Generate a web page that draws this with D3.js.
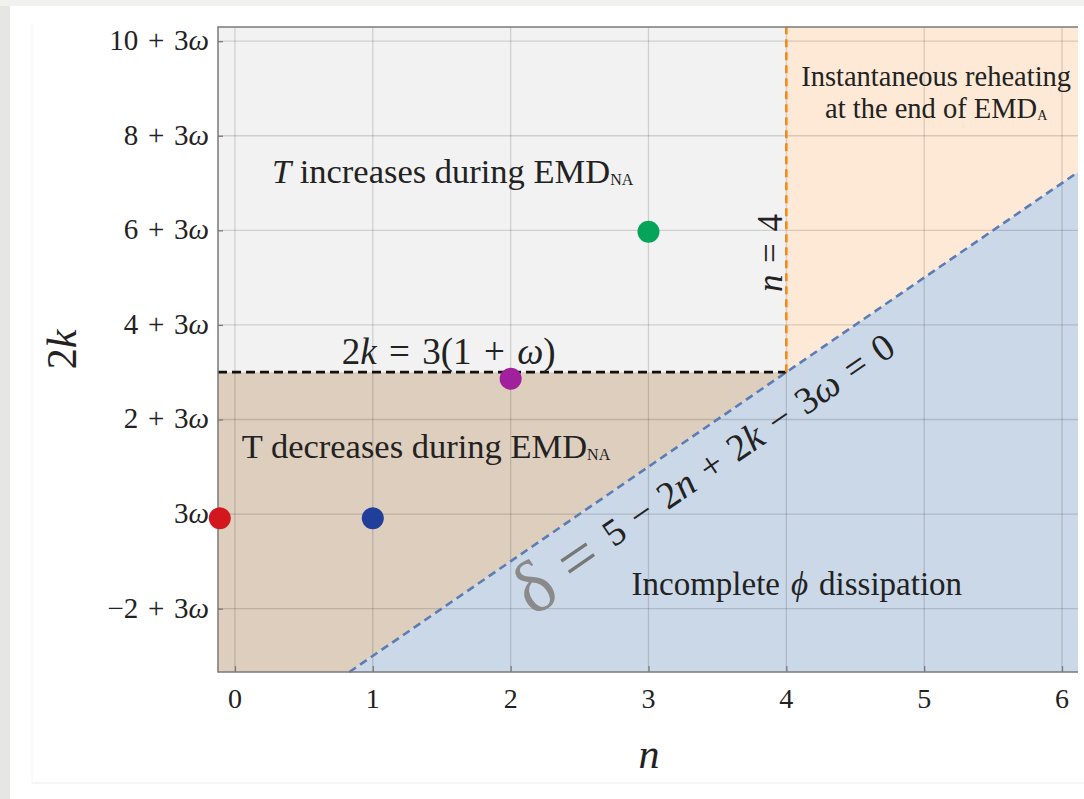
<!DOCTYPE html>
<html>
<head>
<meta charset="utf-8">
<script src="https://cdn.jsdelivr.net/npm/d3@7"></script>
<style>
  html, body { margin: 0; padding: 0; background: #fff; }
  svg text { font-family: "Liberation Serif", "DejaVu Serif", serif; fill: #222; }
</style>
</head>
<body>
<div id="chart"></div>
<script>
// axis values: n on x, v = 2k - 3ω on y
const sp = "\u2004";
const xTicks = [0, 1, 2, 3, 4, 5, 6];
const yTicks = [-2, 0, 2, 4, 6, 8, 10];
const yTickLabels = ["−2", "", "2", "4", "6", "8", "10"];
const xDomain = [-0.123, 6.116];
const yDomain = [-3.34, 10.3];

// boundaries
const kLine = 3;       // 2k = 3(1+ω)  ->  v = 3
const nLine = 4;       // n = 4
const deltaSlope = 2;  // δ = 5 - 2n + 2k - 3ω = 0  ->  v = 2n - 5
const deltaIcpt = -5;

// sample points
const pointN = [-0.11, 1, 2, 3];
const pointV = [-0.09, -0.09, 2.86, 5.97];
const pointColors = ["#d3171f", "#1f3f9a", "#a0219b", "#06a45b"];

const width = 1084, height = 799;
const margin = { left: 218, right: 6, top: 27, bottom: 127 };

const x = d3.scaleLinear().domain(xDomain).range([margin.left, width - margin.right]);
const y = d3.scaleLinear().domain(yDomain).range([height - margin.bottom, margin.top]);
const dv = (n) => deltaSlope * n + deltaIcpt;
const dn = (v) => (v - deltaIcpt) / deltaSlope;

const svg = d3.select("#chart").append("svg")
  .attr("width", width).attr("height", height)
  .style("display", "block");

// page background bits (screenshot frame)
svg.append("rect").attr("width", width).attr("height", height).attr("fill", "#fff");
svg.append("rect").attr("width", 10).attr("height", height).attr("fill", "#e6e6e3");
svg.append("rect").attr("width", width).attr("height", 6).attr("fill", "#f1f1ee");
svg.append("line").attr("x1", 32).attr("x2", width).attr("y1", 783).attr("y2", 783)
  .attr("stroke", "#ececec");
svg.append("line").attr("x1", 32).attr("x2", 32).attr("y1", 24).attr("y2", 783)
  .attr("stroke", "#f3f3f3");

const [x0, x1] = xDomain, [y0, y1] = yDomain;
const line = d3.line().x(d => x(d[0])).y(d => y(d[1]));

// regions
const regions = [
  { fill: "#f2f2f2", pts: [[x0, kLine], [nLine, kLine], [nLine, y1], [x0, y1]] },
  { fill: "#ddcebd", pts: [[x0, y0], [dn(y0), y0], [nLine, kLine], [x0, kLine]] },
  { fill: "#fde9d5", pts: [[nLine, kLine], [x1, dv(x1)], [x1, y1], [nLine, y1]] },
  { fill: "#cbd8e8", pts: [[dn(y0), y0], [x1, y0], [x1, dv(x1)]] },
];
svg.append("g").selectAll("path").data(regions).join("path")
  .attr("d", d => line(d.pts) + "Z")
  .attr("fill", d => d.fill);

// grid
const grid = svg.append("g").attr("stroke", "rgba(0,0,0,0.14)").attr("stroke-width", 1.3);
grid.selectAll("line.gx").data(xTicks).join("line")
  .attr("x1", d => x(d)).attr("x2", d => x(d))
  .attr("y1", y(y0)).attr("y2", y(y1));
grid.selectAll("line.gy").data(yTicks).join("line")
  .attr("x1", x(x0)).attr("x2", x(x1))
  .attr("y1", d => y(d)).attr("y2", d => y(d));

// boundary lines
svg.append("path")
  .attr("d", line([[dn(y0), y0], [x1, dv(x1)]]))
  .attr("stroke", "#5b7db4").attr("stroke-width", 2.6).attr("stroke-dasharray", "8,5")
  .attr("fill", "none");
svg.append("path")
  .attr("d", line([[x0, kLine], [nLine, kLine]]))
  .attr("stroke", "#111").attr("stroke-width", 2.8).attr("stroke-dasharray", "9,5")
  .attr("fill", "none");
svg.append("path")
  .attr("d", line([[nLine, kLine], [nLine, y1]]))
  .attr("stroke", "#f28a1b").attr("stroke-width", 2.6).attr("stroke-dasharray", "8,5")
  .attr("fill", "none");

// frame
svg.append("path")
  .attr("d", `M${x(x1)},${y(y1)}H${x(x0)}V${y(y0)}H${x(x1)}`)
  .attr("stroke", "#7a7a7a").attr("stroke-width", 1.5).attr("fill", "none");

// axes (ticks inward)
const xAxis = svg.append("g")
  .attr("transform", `translate(0,${y(y0)})`)
  .call(d3.axisTop(x).tickValues(xTicks).tickSize(6).tickFormat(""));
xAxis.select(".domain").remove();
xAxis.selectAll("line").attr("stroke", "#7a7a7a").attr("stroke-width", 1.3);
svg.append("g").selectAll("text").data(xTicks).join("text")
  .attr("x", d => x(d)).attr("y", y(y0) + 36)
  .attr("text-anchor", "middle")
  .style("font-size", "28px")
  .text(d => d);

const yAxis = svg.append("g")
  .attr("transform", `translate(${x(x0)},0)`)
  .call(d3.axisRight(y).tickValues(yTicks).tickSize(5).tickFormat(""));
yAxis.select(".domain").remove();
yAxis.selectAll("line").attr("stroke", "#7a7a7a").attr("stroke-width", 1.3);

const yLab = svg.append("g").selectAll("text").data(yTicks).join("text")
  .attr("x", x(x0) - 9).attr("y", d => y(d) + 9)
  .attr("text-anchor", "end")
  .style("font-size", "29px");
yLab.each(function (d, i) {
  const pre = yTickLabels[i];
  const t = d3.select(this);
  t.append("tspan").text(pre ? `${pre}${sp}+${sp}3` : "3");
  t.append("tspan").style("font-style", "italic").text("ω");
});

// axis titles
svg.append("text")
  .attr("transform", `translate(76,${(y(y0) + y(y1)) / 2}) rotate(-90)`)
  .attr("text-anchor", "middle")
  .style("font-size", "42px")
  .call(t => {
    t.append("tspan").text("2");
    t.append("tspan").style("font-style", "italic").text("k");
  });
svg.append("text")
  .attr("x", (x(x0) + x(x1)) / 2 + 1).attr("y", 768)
  .attr("text-anchor", "middle")
  .style("font-size", "42px").style("font-style", "italic")
  .text("n");

// region labels
function subText(sel, parts) {
  parts.forEach(p => {
    const ts = sel.append("tspan").text(p.t);
    if (p.i) ts.style("font-style", "italic");
    if (p.sub) ts.style("font-size", p.sub + "px").attr("dy", p.dy || 0);
  });
}

svg.append("text")
  .attr("x", x(0.268)).attr("y", y(7.0))
  .style("font-size", "34.5px")
  .call(subText, [{ t: "T", i: true }, { t: " increases during EMD" }, { t: "NA", sub: 16, dy: 2 }]);

svg.append("text")
  .attr("x", x(0.05)).attr("y", y(1.19))
  .style("font-size", "34.5px")
  .call(subText, [{ t: "T decreases during EMD" }, { t: "NA", sub: 16, dy: 2 }]);

svg.append("text")
  .attr("x", x(0.775)).attr("y", y(3.17))
  .style("font-size", "37px")
  .call(subText, [{ t: "2" }, { t: "k", i: true }, { t: `${sp}=${sp}3(1${sp}+${sp}` }, { t: "ω", i: true }, { t: ")" }]);

svg.append("text")
  .attr("x", x(5.087)).attr("y", y(9.05))
  .attr("text-anchor", "middle")
  .style("font-size", "28.5px")
  .text("Instantaneous reheating");
svg.append("text")
  .attr("x", x(5.087)).attr("y", y(8.37))
  .attr("text-anchor", "middle")
  .style("font-size", "28.5px")
  .call(subText, [{ t: "at the end of EMD" }, { t: "A", sub: 14, dy: 2 }]);

svg.append("text")
  .attr("x", x(2.877)).attr("y", y(-1.71))
  .style("font-size", "33px")
  .call(subText, [{ t: `Incomplete${sp}` }, { t: "ϕ", i: true }, { t: `${sp}dissipation` }]);

svg.append("text")
  .attr("transform", `translate(${x(3.89) + 11},${y(5.52)}) rotate(-90)`)
  .attr("text-anchor", "middle")
  .style("font-size", "35px")
  .call(subText, [{ t: "n", i: true }, { t: `${sp}=${sp}4` }]);

// δ label along the boundary line
const ang = Math.atan2(y(dv(4)) - y(dv(2)), x(4) - x(2)) * 180 / Math.PI;
const lblN = 3.27;
const rad = ang * Math.PI / 180;
const off = 34;
const lx = x(lblN) - Math.sin(rad) * off, ly = y(dv(lblN)) + Math.cos(rad) * off;
const dl = svg.append("text")
  .attr("transform", `translate(${lx},${ly}) rotate(${ang})`)
  .attr("text-anchor", "middle")
  .attr("dominant-baseline", "central");
dl.append("tspan").style("font-size", "74px").style("fill", "#8a8a8a").text("δ");
dl.append("tspan").style("font-size", "66px").style("fill", "#777").text(" = ");
const eq = [[`5${sp}−${sp}2`], ["n", 1], [`${sp}+${sp}2`], ["k", 1], [`${sp}−${sp}3`], ["ω", 1], [`${sp}=${sp}0`]];
eq.forEach(([s, it]) => {
  const ts = dl.append("tspan").style("font-size", "38px").text(s);
  if (it) ts.style("font-style", "italic");
});

// points
svg.append("g").selectAll("circle").data(pointN).join("circle")
  .attr("cx", d => x(d))
  .attr("cy", (d, i) => y(pointV[i]))
  .attr("r", 11)
  .attr("fill", (d, i) => pointColors[i]);
</script>
</body>
</html>
